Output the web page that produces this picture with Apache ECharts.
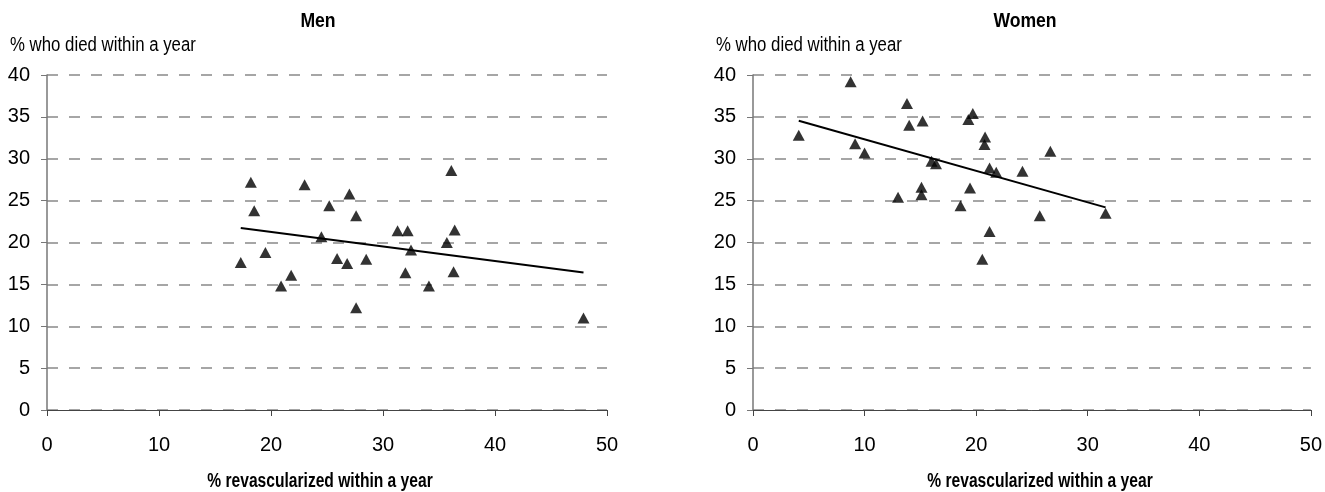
<!DOCTYPE html>
<html>
<head>
<meta charset="utf-8">
<script src="https://cdn.jsdelivr.net/npm/echarts@6/dist/echarts.min.js"></script>
<style>
html,body{margin:0;padding:0;background:#fff;}
#chart{width:1325px;height:492px;}
</style>
</head>
<body>
<div id="chart"></div>
<script>
// Data (x = % revascularized within a year, y = % who died within a year)
const menX = [17.3, 18.2, 18.5, 19.5, 20.9, 21.8, 23.0, 24.5, 25.2, 25.9, 26.8, 27.0, 27.6, 27.6, 28.5, 31.3, 32.2, 32.0, 32.5, 34.1, 35.7, 36.1, 36.4, 36.3, 47.9];
const menY = [17.6, 27.2, 23.8, 18.8, 14.8, 16.1, 26.9, 20.7, 24.4, 18.1, 17.5, 25.8, 23.2, 12.2, 18.0, 21.4, 21.4, 16.4, 19.1, 14.8, 20.0, 28.6, 21.5, 16.5, 11.0];
const womenX = [4.1, 8.75, 9.15, 10.0, 13.0, 13.8, 14.0, 15.2, 15.1, 15.1, 16.0, 16.4, 18.6, 19.3, 19.7, 19.45, 20.55, 20.8, 20.75, 21.2, 21.2, 21.8, 24.15, 25.7, 26.65, 31.6];
const womenY = [32.8, 39.2, 31.8, 30.7, 25.4, 36.6, 34.0, 34.5, 26.6, 25.7, 29.7, 29.4, 24.4, 34.7, 35.4, 26.5, 18.0, 32.6, 31.7, 28.9, 21.3, 28.4, 28.5, 23.2, 30.9, 23.5];
const xTicks = [0, 10, 20, 30, 40, 50];
const yTicks = [0, 5, 10, 15, 20, 25, 30, 35, 40];
const panelTitles = ['Men', 'Women'];
const yName = '% who died within a year';
const xName = '% revascularized within a year';

function pairs(xs, ys) { return xs.map((x, i) => [x, ys[i]]); }
function trend(xs, ys) {
  const n = xs.length;
  const mx = xs.reduce((a, b) => a + b, 0) / n;
  const my = ys.reduce((a, b) => a + b, 0) / n;
  let sxy = 0, sxx = 0;
  for (let i = 0; i < n; i++) { sxy += (xs[i] - mx) * (ys[i] - my); sxx += (xs[i] - mx) ** 2; }
  const b = sxy / sxx, a = my - b * mx;
  const x0 = Math.min(...xs), x1 = Math.max(...xs);
  return [[x0, a + b * x0], [x1, a + b * x1]];
}

const FONT = "'Liberation Sans', Arial, sans-serif";
const chart = echarts.init(document.getElementById('chart'));

function xAxisCfg(idx) {
  return {
    type: 'value', gridIndex: idx, min: xTicks[0], max: xTicks[xTicks.length - 1], interval: 10,
    axisLine: { lineStyle: { color: '#444', width: 1 } },
    axisTick: { show: true, length: 6, lineStyle: { color: '#444' } },
    axisLabel: { color: '#000', fontSize: 20, fontFamily: FONT, margin: 25 },
    splitLine: { show: false }
  };
}
function yAxisCfg(idx) {
  return {
    type: 'value', gridIndex: idx, min: yTicks[0], max: yTicks[yTicks.length - 1], interval: 5,
    axisLine: { show: true, lineStyle: { color: '#777', width: 1.5 } },
    axisTick: { show: true, length: 6, lineStyle: { color: '#777' } },
    axisLabel: { color: '#000', fontSize: 20, fontFamily: FONT, margin: 17 },
    splitLine: { show: true, lineStyle: { color: '#a6a6a6', width: 2, type: [11, 11] } }
  };
}
function label(text, x, y, align, bold, sx) {
  return {
    type: 'text', x: x, y: y, scaleX: sx, silent: true,
    style: {
      text: text, fill: '#000', align: align, verticalAlign: 'middle',
      font: (bold ? 'bold ' : '') + '20px ' + FONT
    }
  };
}

chart.setOption({
  animation: false,
  backgroundColor: '#fff',
  graphic: [
    label(panelTitles[0], 318, 21, 'center', true, 0.88),
    label(panelTitles[1], 1025, 21, 'center', true, 0.88),
    label(yName, 10, 45, 'left', false, 0.84),
    label(yName, 716, 45, 'left', false, 0.84),
    label(xName, 320, 481, 'center', true, 0.78),
    label(xName, 1040, 481, 'center', true, 0.78)
  ],
  grid: [
    { left: 47, right: 1325 - 607, top: 75, bottom: 492 - 410, containLabel: false },
    { left: 753, right: 1325 - 1313, top: 75, bottom: 492 - 410, containLabel: false }
  ],
  xAxis: [xAxisCfg(0), xAxisCfg(1)],
  yAxis: [yAxisCfg(0), yAxisCfg(1)],
  series: [
    { type: 'scatter', xAxisIndex: 0, yAxisIndex: 0, data: pairs(menX, menY), symbol: 'triangle', symbolSize: [12, 11], itemStyle: { color: '#000' }, z: 3 },
    { type: 'line', xAxisIndex: 0, yAxisIndex: 0, data: trend(menX, menY), showSymbol: false, symbol: 'none', lineStyle: { color: '#000', width: 2 }, z: 2 },
    { type: 'scatter', xAxisIndex: 1, yAxisIndex: 1, data: pairs(womenX, womenY), symbol: 'triangle', symbolSize: [12, 11], itemStyle: { color: '#000' }, z: 3 },
    { type: 'line', xAxisIndex: 1, yAxisIndex: 1, data: trend(womenX, womenY), showSymbol: false, symbol: 'none', lineStyle: { color: '#000', width: 2 }, z: 2 }
  ]
});
</script>
</body>
</html>
